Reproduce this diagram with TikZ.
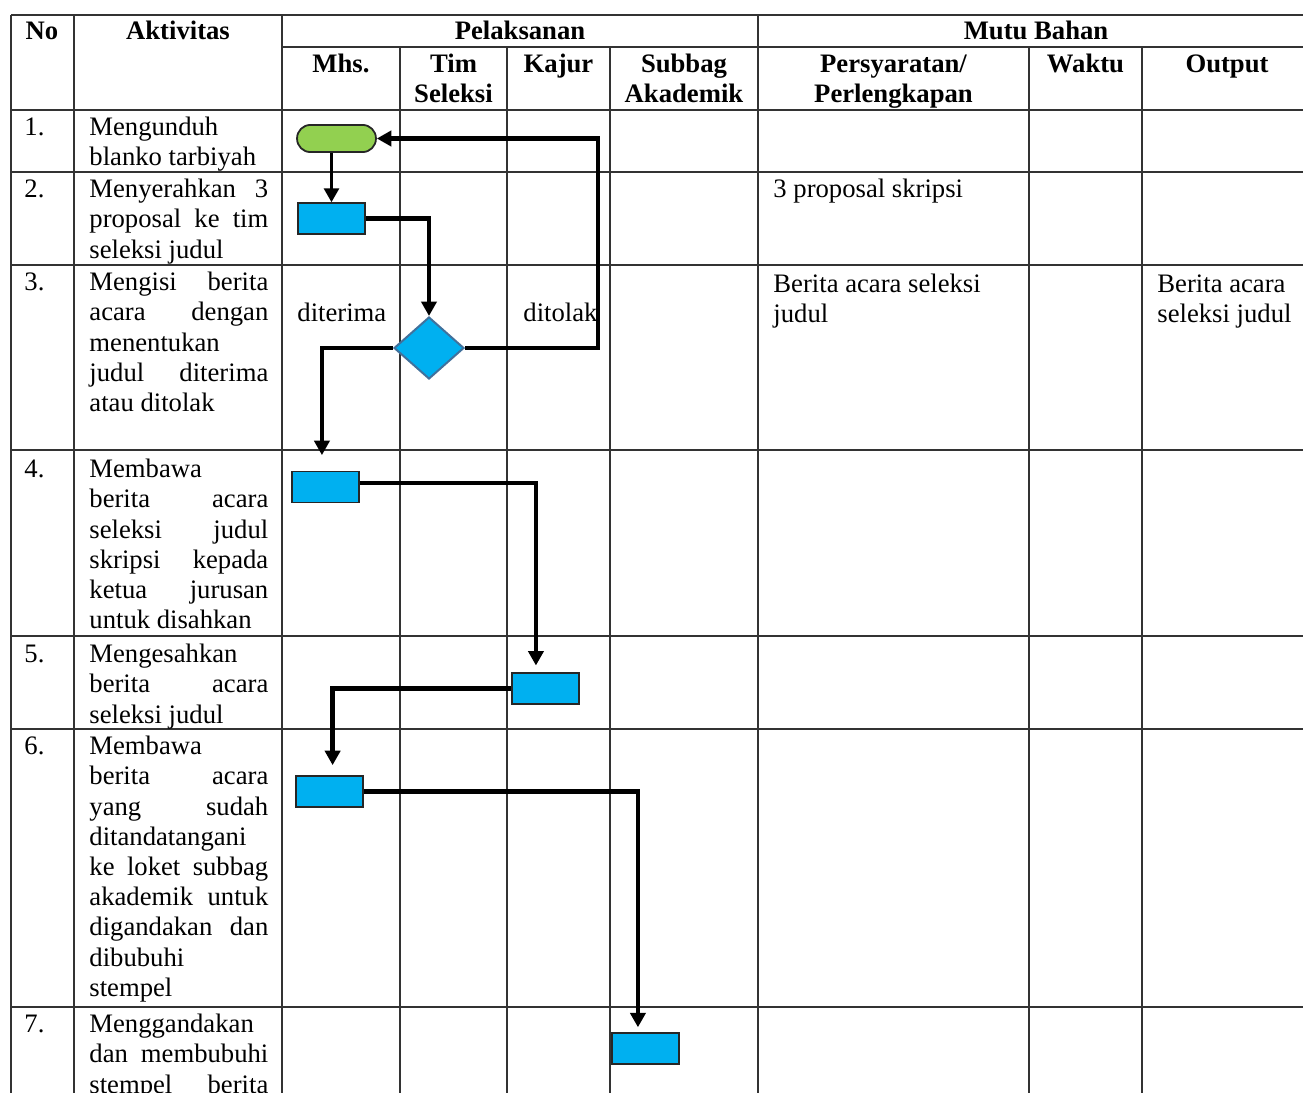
\documentclass[tikz,border=0pt]{standalone}
\usepackage{fontspec}
\setmainfont{Liberation Serif}
\usetikzlibrary{arrows.meta,shapes.geometric}
\definecolor{termgreen}{HTML}{92D050}
\definecolor{procblue}{HTML}{00B0F0}
\definecolor{decedge}{HTML}{41719C}
\newlength{\aktw}\setlength{\aktw}{80.5pt}
\newcommand{\jl}[1]{\makebox[\aktw][s]{#1}}
\newcommand{\tabfont}{\fontsize{12}{13.6}\selectfont}

\begin{document}
\begin{tikzpicture}[x=0.45pt,y=-0.45pt,font=\tabfont,
  grid/.style={line width=0.7pt,black!80},
  hd/.style={font=\tabfont\bfseries,anchor=base,inner sep=0},
  hdd/.style={font=\tabfont\bfseries,anchor=north,align=center,inner sep=0,
    execute at begin node={\spaceskip=0pt\relax\xspaceskip=0pt\relax}},
  cell/.style={anchor=base west,inner sep=0},
  para/.style={anchor=north west,inner sep=0,align=left,
    execute at begin node={\spaceskip=0pt\relax\xspaceskip=0pt\relax}},
  akt/.style={para,text width=\aktw},
  proc/.style={draw=black!85,line width=0.8pt,fill=procblue,minimum width=30.2pt,minimum height=13.9pt,inner sep=0},
  term/.style={draw=black!85,line width=0.8pt,fill=termgreen,rounded corners=6pt,minimum width=35.5pt,minimum height=12.2pt,inner sep=0},
  dec/.style={diamond,draw=decedge,line width=0.9pt,fill=procblue,minimum width=31.5pt,minimum height=27.9pt,inner sep=0},
  flow/.style={line width=2pt,-{Triangle[length=6.5pt,width=6.8pt]}},
  link/.style={line width=1pt,-{Triangle[length=6.2pt,width=6.8pt]}}]
\useasboundingbox (0,0) rectangle (1303,1093);
\clip (0,0) rectangle (1303,1093);

% table
\draw[grid] (11,15) -- (1320,15);
\draw[grid] (282,47) -- (1320,47);
\draw[grid] (11,110) -- (1320,110);
\draw[grid] (11,172) -- (1320,172);
\draw[grid] (11,265) -- (1320,265);
\draw[grid] (11,450) -- (1320,450);
\draw[grid] (11,636) -- (1320,636);
\draw[grid] (11,729) -- (1320,729);
\draw[grid] (11,1007) -- (1320,1007);
\draw[grid] (11,15) -- (11,1100);
\draw[grid] (74,15) -- (74,1100);
\draw[grid] (282,15) -- (282,1100);
\draw[grid] (758,15) -- (758,1100);
\draw[grid] (400,47) -- (400,1100);
\draw[grid] (507,47) -- (507,1100);
\draw[grid] (610,47) -- (610,1100);
\draw[grid] (1029,47) -- (1029,1100);
\draw[grid] (1142,47) -- (1142,1100);

% header
\node (hno) at (42,39) [hd] {No};
\node (hakt) at (178,39) [hd] {Aktivitas};
\node (hpel) at (520,39) [hd] {Pelaksanan};
\node (hmutu) at (1036,39) [hd] {Mutu Bahan};
\node (hmhs) at (341,72) [hd] {Mhs.};
\node (htim) at (453.5,51) [hdd] {\strut Tim\\Seleksi};
\node (hkajur) at (558.5,72) [hd] {Kajur};
\node (hsub) at (684,51) [hdd] {\strut Subbag\\Akademik};
\node (hsyarat) at (893.5,51) [hdd] {\strut Persyaratan/\\Perlengkapan};
\node (hwaktu) at (1085.5,72) [hd] {Waktu};
\node (hout) at (1227,72) [hd] {Output};

% rows
\node (n1) at (24,135) [cell] {1.};
\node (a1) at (89,114) [akt] {\strut Mengunduh\\blanko tarbiyah};
\node (n2) at (24,197) [cell] {2.};
\node (a2) at (89,176) [akt] {\strut\jl{Menyerahkan 3}\\\jl{proposal ke tim}\\seleksi judul};
\node (n3) at (24,290) [cell] {3.};
\node (a3) at (89,269) [akt] {\strut\jl{Mengisi berita}\\\jl{acara dengan}\\menentukan\\\jl{judul diterima}\\atau ditolak};
\node (n4) at (24,477) [cell] {4.};
\node (a4) at (89,456) [akt] {\strut Membawa\\\jl{berita acara}\\\jl{seleksi judul}\\\jl{skripsi kepada}\\\jl{ketua jurusan}\\untuk disahkan};
\node (n5) at (24,662) [cell] {5.};
\node (a5) at (89,641) [akt] {\strut Mengesahkan\\\jl{berita acara}\\seleksi judul};
\node (n6) at (24,754) [cell] {6.};
\node (a6) at (89,733) [akt] {\strut Membawa\\\jl{berita acara}\\\jl{yang sudah}\\ditandatangani\\\jl{ke loket subbag}\\\jl{akademik untuk}\\\jl{digandakan dan}\\dibubuhi\\stempel};
\node (n7) at (24,1032) [cell] {7.};
\node (a7) at (89,1011) [akt] {\strut Menggandakan\\\jl{dan membubuhi}\\\jl{stempel berita}};

\node (p2) at (773,197) [cell] {3 proposal skripsi};
\node (p3) at (773,271) [para] {\strut Berita acara seleksi\\judul};
\node (o3) at (1157,271) [para] {\strut Berita acara\\seleksi judul};

% flow
\node (term) at (336.5,138.5) [term] {};
\node (r2) at (331.5,218.5) [proc] {};
\node (d3) at (429,348) [dec] {};
\node (r4) at (325.5,487) [proc] {};
\node (r5) at (545.5,688.5) [proc] {};
\node (r6) at (329.5,791.5) [proc] {};
\node (r7) at (645.5,1048.5) [proc] {};
\node (yes) at (297,321) [cell] {diterima};
\node (no) at (523,321) [cell] {ditolak};
\coordinate (back) at (598,300);

\draw[link] (r2.north |- term.south) -- (r2.north);
\draw[flow] (r2.east) -| (d3.north);
\draw[flow] (d3.east) -| (back) |- (term.east);
\draw[flow,shorten >=7pt] (d3.west) -| ([xshift=-1.6pt]r4.north);
\draw[flow,shorten >=3pt] ([yshift=1.8pt]r4.east) -| ([xshift=-4.3pt]r5.north);
\draw[flow,shorten >=4.5pt] (r5.west) -| ([xshift=1.4pt]r6.north);
\draw[flow,shorten >=2.2pt] (r6.east) -| ([xshift=-3.4pt]r7.north);
\end{tikzpicture}
\end{document}
